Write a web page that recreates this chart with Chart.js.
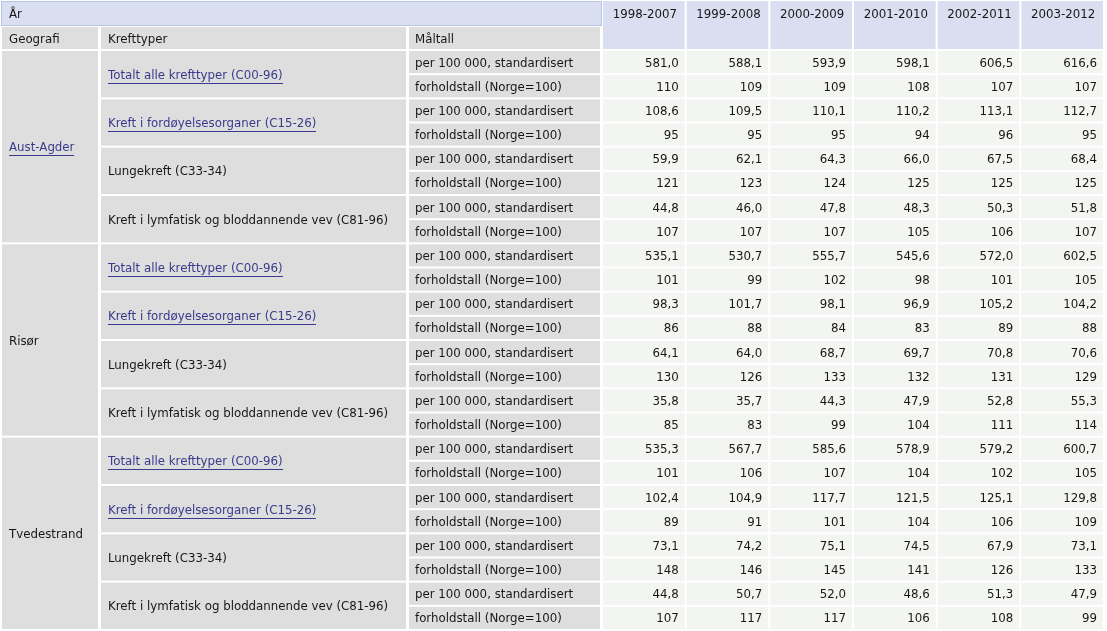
<!DOCTYPE html>
<html>
<head>
<meta charset="utf-8">
<script src="https://cdn.jsdelivr.net/npm/chart.js@4"></script>
<style>
  html, body { margin: 0; background: #fff; }
  canvas { display: block; }
</style>
</head>
<body>
<canvas id="tbl" width="1107" height="631"></canvas>
<script>
// ── DATA ──
const periods = ['1998-2007', '1999-2008', '2000-2009', '2001-2010', '2002-2011', '2003-2012'];
const regions = ['Aust-Agder', 'Risør', 'Tvedestrand'];
const regionIsLink = [true, false, false];
const cancerTypes = [
  'Totalt alle krefttyper (C00-96)',
  'Kreft i fordøyelsesorganer (C15-26)',
  'Lungekreft (C33-34)',
  'Kreft i lymfatisk og bloddannende vev (C81-96)'
];
const cancerIsLink = [true, true, false, false];
const measures = ['per 100 000, standardisert', 'forholdstall (Norge=100)'];

// rows: rate / ratio for each cancer type, in order
const austAgder = [
  [581.0, 588.1, 593.9, 598.1, 606.5, 616.6],
  [110, 109, 109, 108, 107, 107],
  [108.6, 109.5, 110.1, 110.2, 113.1, 112.7],
  [95, 95, 95, 94, 96, 95],
  [59.9, 62.1, 64.3, 66.0, 67.5, 68.4],
  [121, 123, 124, 125, 125, 125],
  [44.8, 46.0, 47.8, 48.3, 50.3, 51.8],
  [107, 107, 107, 105, 106, 107]
];
const risor = [
  [535.1, 530.7, 555.7, 545.6, 572.0, 602.5],
  [101, 99, 102, 98, 101, 105],
  [98.3, 101.7, 98.1, 96.9, 105.2, 104.2],
  [86, 88, 84, 83, 89, 88],
  [64.1, 64.0, 68.7, 69.7, 70.8, 70.6],
  [130, 126, 133, 132, 131, 129],
  [35.8, 35.7, 44.3, 47.9, 52.8, 55.3],
  [85, 83, 99, 104, 111, 114]
];
const tvedestrand = [
  [535.3, 567.7, 585.6, 578.9, 579.2, 600.7],
  [101, 106, 107, 104, 102, 105],
  [102.4, 104.9, 117.7, 121.5, 125.1, 129.8],
  [89, 91, 101, 104, 106, 109],
  [73.1, 74.2, 75.1, 74.5, 67.9, 73.1],
  [148, 146, 145, 141, 126, 133],
  [44.8, 50.7, 52.0, 48.6, 51.3, 47.9],
  [107, 117, 117, 106, 108, 99]
];
const regionValues = [austAgder, risor, tvedestrand];

// ── ROWS / POINTS ──
const perRegion = cancerTypes.length * measures.length;
const rowKeys = [];
regions.forEach((r, ri) => cancerTypes.forEach((c, ci) => measures.forEach((m, mi) => rowKeys.push(`${ri}-${ci}-${mi}`))));

const points = [];
rowKeys.forEach((key, k) => {
  const vals = regionValues[Math.floor(k / perRegion)][k % perRegion];
  periods.forEach((p, j) => points.push({ x: p, y: key, v: vals[j], ratio: k % 2 === 1 }));
});

// ── STYLE ──
const FONT = '11.8px "DejaVu Sans", Verdana, sans-serif';
const TEXT = '#1a1616';
const LINK = '#3a3a8c';
const GRAY = '#dedede';
const CELL = '#f3f5f2';
const BLUE = '#d9dff0';
const BLUE_BORDER = '#b6c5e2';
const DY = 1.5; // text sits a bit below the middle

const colGeo = [2, 98], colType = [101, 406], colMeasure = [409, 600];

function fmt(p) {
  return p.ratio ? String(p.v) : p.v.toFixed(1).replace('.', ',');
}

function label(ctx, str, x, y, link, align) {
  y += DY;
  ctx.textAlign = align || 'left';
  ctx.fillStyle = link ? LINK : TEXT;
  ctx.fillText(str, x, y);
  if (link) {
    const w = ctx.measureText(str).width;
    const x0 = align === 'right' ? x - w : x;
    ctx.fillRect(Math.round(x0), Math.round(y + 7), Math.round(w), 1);
  }
}

// ── TABLE PLUGIN ──
const tablePlugin = {
  id: 'table',
  beforeDatasetsDraw(chart) {
    const { ctx, chartArea: a, scales: { x, y } } = chart;
    const rowH = (a.bottom - a.top) / rowKeys.length;
    const colW = (a.right - a.left) / periods.length;
    ctx.save();
    ctx.font = FONT;
    ctx.textBaseline = 'middle';

    // header row 1 (År)
    ctx.fillStyle = BLUE;
    ctx.fillRect(1, 1, 601, 25);
    ctx.strokeStyle = BLUE_BORDER;
    ctx.lineWidth = 1;
    ctx.strokeRect(1.5, 1.5, 600, 24);
    label(ctx, 'År', 9, 13.5, false);

    // header row 2
    ctx.fillStyle = GRAY;
    [colGeo, colType, colMeasure].forEach(c => ctx.fillRect(c[0], 27, c[1] - c[0], 22));
    label(ctx, 'Geografi', colGeo[0] + 7, 38);
    label(ctx, 'Krefttyper', colType[0] + 7, 38);
    label(ctx, 'Måltall', colMeasure[0] + 6, 38);

    // year headers
    periods.forEach((p, j) => {
      const cx = x.getPixelForValue(j);
      ctx.fillStyle = BLUE;
      ctx.fillRect(cx - colW / 2 + 1, 1, colW - 2, 48);
      label(ctx, p, cx + 1, 13, false, 'center');
    });

    // left label columns
    const top = k => y.getPixelForValue(k) - rowH / 2;
    rowKeys.forEach((key, k) => {
      const t = top(k);
      ctx.fillStyle = GRAY;
      ctx.fillRect(colMeasure[0], t + 1, colMeasure[1] - colMeasure[0], rowH - 2);
      label(ctx, measures[k % 2], colMeasure[0] + 6, t + rowH / 2);
      if (k % 2 === 0) {
        const ci = Math.floor(k % perRegion / 2);
        ctx.fillStyle = GRAY;
        ctx.fillRect(colType[0], t + 1, colType[1] - colType[0], rowH * 2 - 2);
        label(ctx, cancerTypes[ci], colType[0] + 7, t + rowH, cancerIsLink[ci]);
      }
      if (k % perRegion === 0) {
        const ri = k / perRegion;
        ctx.fillStyle = GRAY;
        ctx.fillRect(colGeo[0], t + 1, colGeo[1] - colGeo[0], rowH * perRegion - 2);
        label(ctx, regions[ri], colGeo[0] + 7, t + rowH * perRegion / 2, regionIsLink[ri]);
      }
    });

    // data cells
    const meta = chart.getDatasetMeta(0);
    meta.data.forEach((el, i) => {
      const p = points[i];
      ctx.fillStyle = CELL;
      ctx.fillRect(el.x - colW / 2 + 1, el.y - rowH / 2 + 1, colW - 2, rowH - 2);
      label(ctx, fmt(p), el.x + colW / 2 - 7, el.y, false, 'right');
    });
    ctx.restore();
  }
};

new Chart(document.getElementById('tbl'), {
  type: 'scatter',
  data: {
    datasets: [{ data: points, pointRadius: 0, pointHoverRadius: 0 }]
  },
  options: {
    responsive: false,
    animation: false,
    events: [],
    layout: { padding: { left: 602, top: 50, right: 3, bottom: 1 } },
    plugins: { legend: { display: false }, tooltip: { enabled: false } },
    scales: {
      x: { type: 'category', labels: periods, offset: true, display: false },
      y: { type: 'category', labels: rowKeys, offset: true, display: false }
    }
  },
  plugins: [tablePlugin]
});
</script>
</body>
</html>
